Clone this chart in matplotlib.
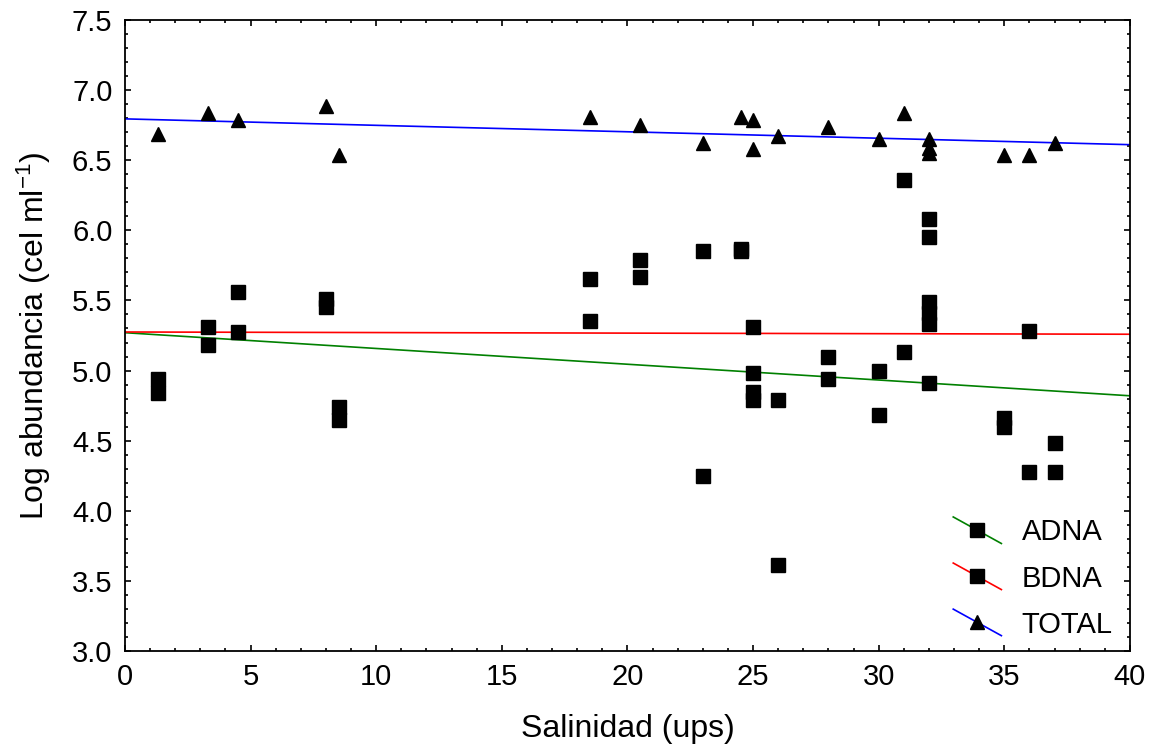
import matplotlib
matplotlib.use("Agg")
import matplotlib.pyplot as plt
import numpy as np
from matplotlib.lines import Line2D
from matplotlib.legend_handler import HandlerBase
from matplotlib.ticker import MultipleLocator

plt.rcParams['font.family'] = ['Liberation Sans', 'DejaVu Sans']
plt.rcParams['mathtext.default'] = 'regular'

# salinity of each sample (ups)
salinidad = [1.3, 3.3, 4.5, 8.0, 8.5, 18.5, 20.5, 23.0, 24.5, 25.0, 25.0,
             26.0, 28.0, 30.0, 31.0, 32.0, 32.0, 32.0, 35.0, 36.0, 37.0]

# log abundance (cel/ml)
adna = [4.84, 5.18, 5.275, 5.45, 4.65, 5.35, 5.67, 4.25, 5.85, 4.79, 4.85,
        3.61, 4.94, 4.68, 5.13, 4.91, 5.33, 5.41, 4.60, 4.28, 4.28]
bdna = [4.94, 5.31, 5.56, 5.51, 4.74, 5.65, 5.79, 5.85, 5.87, 4.98, 5.31,
        4.79, 5.10, 5.00, 6.36, 5.49, 5.95, 6.08, 4.66, 5.28, 4.48]
total = [6.69, 6.84, 6.79, 6.89, 6.54, 6.81, 6.75, 6.62, 6.81, 6.79, 6.58,
         6.67, 6.74, 6.65, 6.84, 6.65, 6.59, 6.55, 6.54, 6.54, 6.62]

# linear fits: (intercept, slope)
fit_adna = (5.27, -0.01125)
fit_bdna = (5.275, -0.0004)
fit_total = (6.795, -0.0046)

xfit = np.array([0, 40])


class DiagHandler(HandlerBase):
    # legend key: slanted line with the marker in the middle
    def create_artists(self, legend, orig, xd, yd, w, h, fs, trans):
        cx = -xd + w / 2
        cy = -yd + h / 2
        ln = Line2D([-xd, w - xd], [cy + 0.65 * h, cy - 0.65 * h],
                    color=orig.get_color(), lw=orig.get_linewidth())
        mk = Line2D([cx], [cy], ls='', marker=orig.get_marker(),
                    ms=orig.get_markersize(), color='black')
        ln.set_transform(trans)
        mk.set_transform(trans)
        return [ln, mk]


fig = plt.figure(figsize=(11.54, 7.53), dpi=100)
ax = fig.add_axes([0.1083, 0.1355, 0.8709, 0.8379])

ax.plot(xfit, fit_adna[0] + fit_adna[1] * xfit, color='green', lw=1.2, zorder=2)
ax.plot(xfit, fit_bdna[0] + fit_bdna[1] * xfit, color='red', lw=1.2, zorder=2)
ax.plot(xfit, fit_total[0] + fit_total[1] * xfit, color='blue', lw=1.2, zorder=2)

ax.plot(salinidad, adna, ls='', marker='s', ms=10, color='black', zorder=3)
ax.plot(salinidad, bdna, ls='', marker='s', ms=10, color='black', zorder=3)
ax.plot(salinidad, total, ls='', marker='^', ms=10.5, color='black', zorder=3)

h1 = Line2D([], [], color='green', lw=1.2, marker='s', ms=10)
h2 = Line2D([], [], color='red', lw=1.2, marker='s', ms=10)
h3 = Line2D([], [], color='blue', lw=1.2, marker='^', ms=10.5)
ax.legend([h1, h2, h3], ['ADNA', 'BDNA', 'TOTAL'], frameon=False,
          fontsize=21, loc='lower right', bbox_to_anchor=(1.009, -0.022),
          handlelength=1.65, handletextpad=0.7, labelspacing=0.62,
          handler_map={Line2D: DiagHandler()})

ax.set_xlim(0, 40)
ax.set_ylim(3.0, 7.5)
ax.xaxis.set_major_locator(MultipleLocator(5))
ax.xaxis.set_minor_locator(MultipleLocator(1))
ax.yaxis.set_major_locator(MultipleLocator(0.5))
ax.yaxis.set_minor_locator(MultipleLocator(0.1))
ax.yaxis.set_major_formatter(matplotlib.ticker.FormatStrFormatter('%.1f'))
ax.tick_params(which='both', direction='in', top=True, right=True,
               labelsize=21, width=1.2)
ax.tick_params(which='major', length=4, pad=9)
ax.tick_params(which='minor', length=2)
for s in ax.spines.values():
    s.set_linewidth(1.3)

ax.set_xlabel('Salinidad (ups)', fontsize=23, labelpad=16)
ax.set_ylabel('Log abundancia (cel ml$^{-1}$)', fontsize=23, labelpad=14)

fig.savefig('out.png', dpi=100)
